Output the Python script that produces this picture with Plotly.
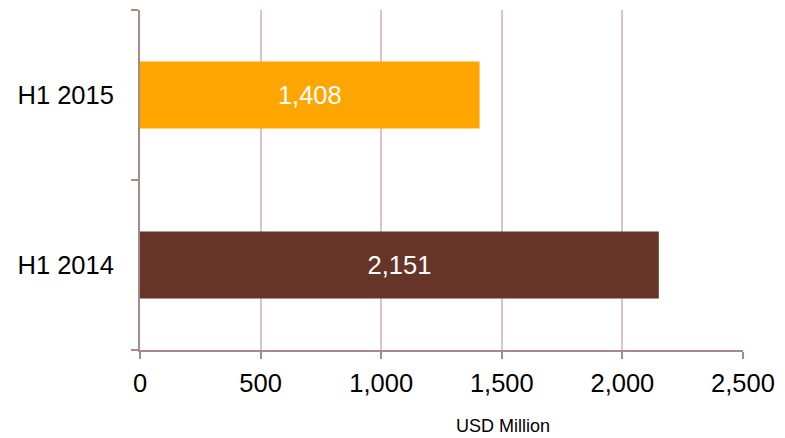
import plotly.graph_objects as go

categories = ["H1 2014", "H1 2015"]
values = [2151, 1408]
colors = ["#673428", "#FFA500"]
x_ticks = [0, 500, 1000, 1500, 2000, 2500]

fig = go.Figure(go.Bar(
    y=categories, x=values, orientation="h",
    marker=dict(color=colors, line=dict(width=0)),
    text=[f"{v:,}" for v in values],
    textposition="inside", insidetextanchor="middle",
    textfont=dict(color="white", size=25.5, family="Liberation Sans, Arial"),
    hoverinfo="skip",
))

axis_col = "#A88A8A"
grid_col = "#DCC4C6"

# page body adds an 8px offset; figure is sized so the plot lands where the reference has it
fig.update_layout(
    width=777, height=430,
    margin=dict(l=132, r=42, t=2, b=88),
    plot_bgcolor="white", paper_bgcolor="white",
    bargap=0.605, showlegend=False,
    font=dict(family="Liberation Sans, Arial", size=25.5, color="black"),
    xaxis=dict(
        range=[0, 2500], tickvals=x_ticks, tickformat=",",
        showgrid=True, gridcolor=grid_col, gridwidth=2,
        showline=True, linecolor=axis_col, linewidth=2,
        ticks="outside", ticklen=7, tickcolor=axis_col, tickwidth=2,
        zeroline=False, ticklabelstandoff=2,
    ),
    yaxis=dict(
        showgrid=False, showline=True, linecolor=axis_col, linewidth=2,
        ticks="outside", ticklen=7, tickcolor=axis_col, tickwidth=2,
        tickson="boundaries", zeroline=False, ticklabelstandoff=19,
    ),
    annotations=[dict(
        text="USD Million", xref="paper", yref="paper",
        x=0.602, y=-0.224, xanchor="center", yanchor="middle",
        showarrow=False, font=dict(size=18, color="black"),
    )],
)

fig.write_html("out.html")
